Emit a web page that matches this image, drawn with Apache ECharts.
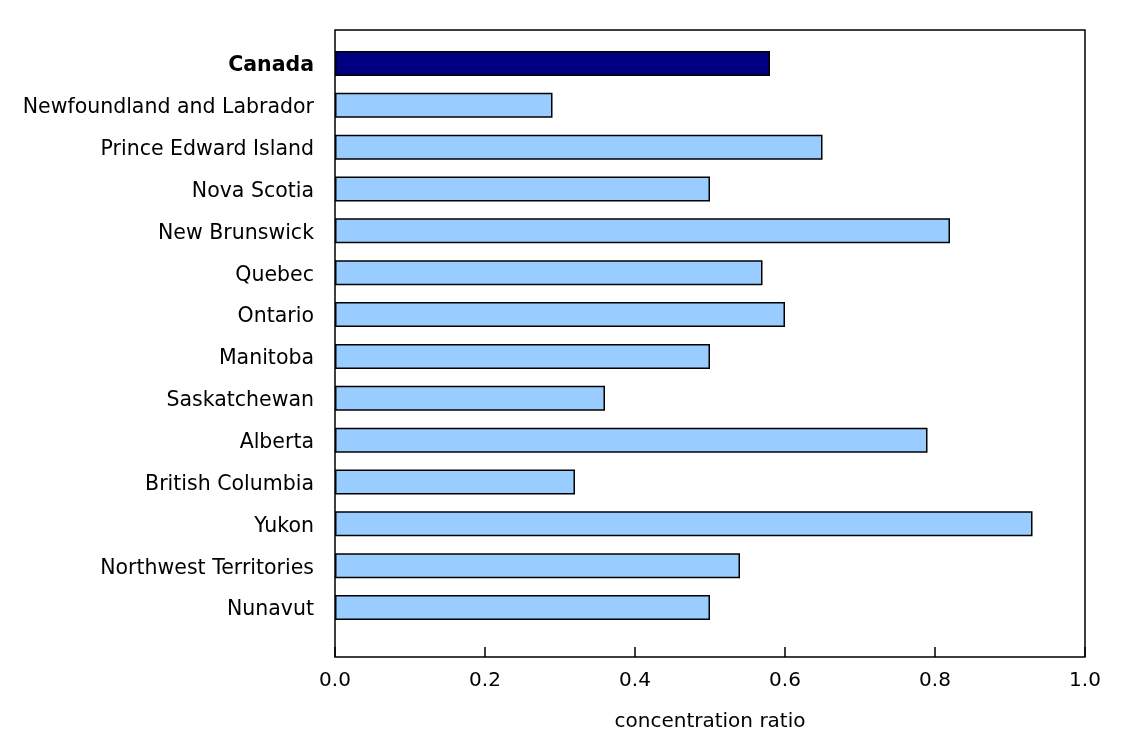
<!DOCTYPE html>
<html>
<head>
<meta charset="utf-8">
<script src="https://cdn.jsdelivr.net/npm/echarts@6/dist/echarts.min.js"></script>
<style>
html,body{margin:0;padding:0;background:#fff;}
#c{width:1128px;height:741px;}
</style>
</head>
<body>
<div id="c"></div>
<script>
const categories = ["Canada","Newfoundland and Labrador","Prince Edward Island","Nova Scotia","New Brunswick","Quebec","Ontario","Manitoba","Saskatchewan","Alberta","British Columbia","Yukon","Northwest Territories","Nunavut"];
const values = [0.58,0.29,0.65,0.50,0.82,0.57,0.60,0.50,0.36,0.79,0.32,0.93,0.54,0.50];
const xTicks = [0.0,0.2,0.4,0.6,0.8,1.0];
const axisName = "concentration ratio";

const FONT = "DejaVu Sans, Verdana, sans-serif";
const chart = echarts.init(document.getElementById('c'));
const data = values.map((v,i)=>({
  value: v,
  itemStyle: { color: i===0 ? '#000080' : '#99CCFF' }
}));
chart.setOption({
  animation:false,
  backgroundColor:'#fff',
  grid:[
    {left:335, right:43, top:42.5, height:586, show:false},
    {left:335, right:43, top:30, bottom:84, show:true, borderColor:'#000', borderWidth:1.5, backgroundColor:'transparent'}
  ],
  xAxis:[
    {type:'value', gridIndex:0, min:0, max:1, show:false},
    {type:'value', gridIndex:1, min:xTicks[0], max:xTicks[xTicks.length-1], interval:0.2,
     axisLine:{show:false},
     axisTick:{show:true, inside:true, length:10, lineStyle:{color:'#000', width:1.5}},
     splitLine:{show:false},
     axisLabel:{fontFamily:FONT, fontSize:20, color:'#000', margin:14, formatter:v=>v.toFixed(1)},
     name:axisName, nameLocation:'middle', nameGap:55,
     nameTextStyle:{fontFamily:FONT, fontSize:20, color:'#000'}}
  ],
  yAxis:[
    {type:'category', gridIndex:0, data:categories, inverse:true,
     axisLine:{show:false}, axisTick:{show:false},
     axisLabel:{fontFamily:FONT, fontSize:20.5, color:'#000', margin:21, padding:[5,0,0,0],
       formatter:(v,i)=> i===0 ? '{b|'+v+'}' : v,
       rich:{b:{fontFamily:FONT, fontSize:20.5, fontWeight:'bold', color:'#000'}}}},
    {type:'value', gridIndex:1, show:false, min:0, max:1}
  ],
  series:[{
    type:'bar', xAxisIndex:0, yAxisIndex:0, data:data, barWidth:25,
    itemStyle:{borderColor:'#000', borderWidth:1.5}
  }]
});
</script>
</body>
</html>
